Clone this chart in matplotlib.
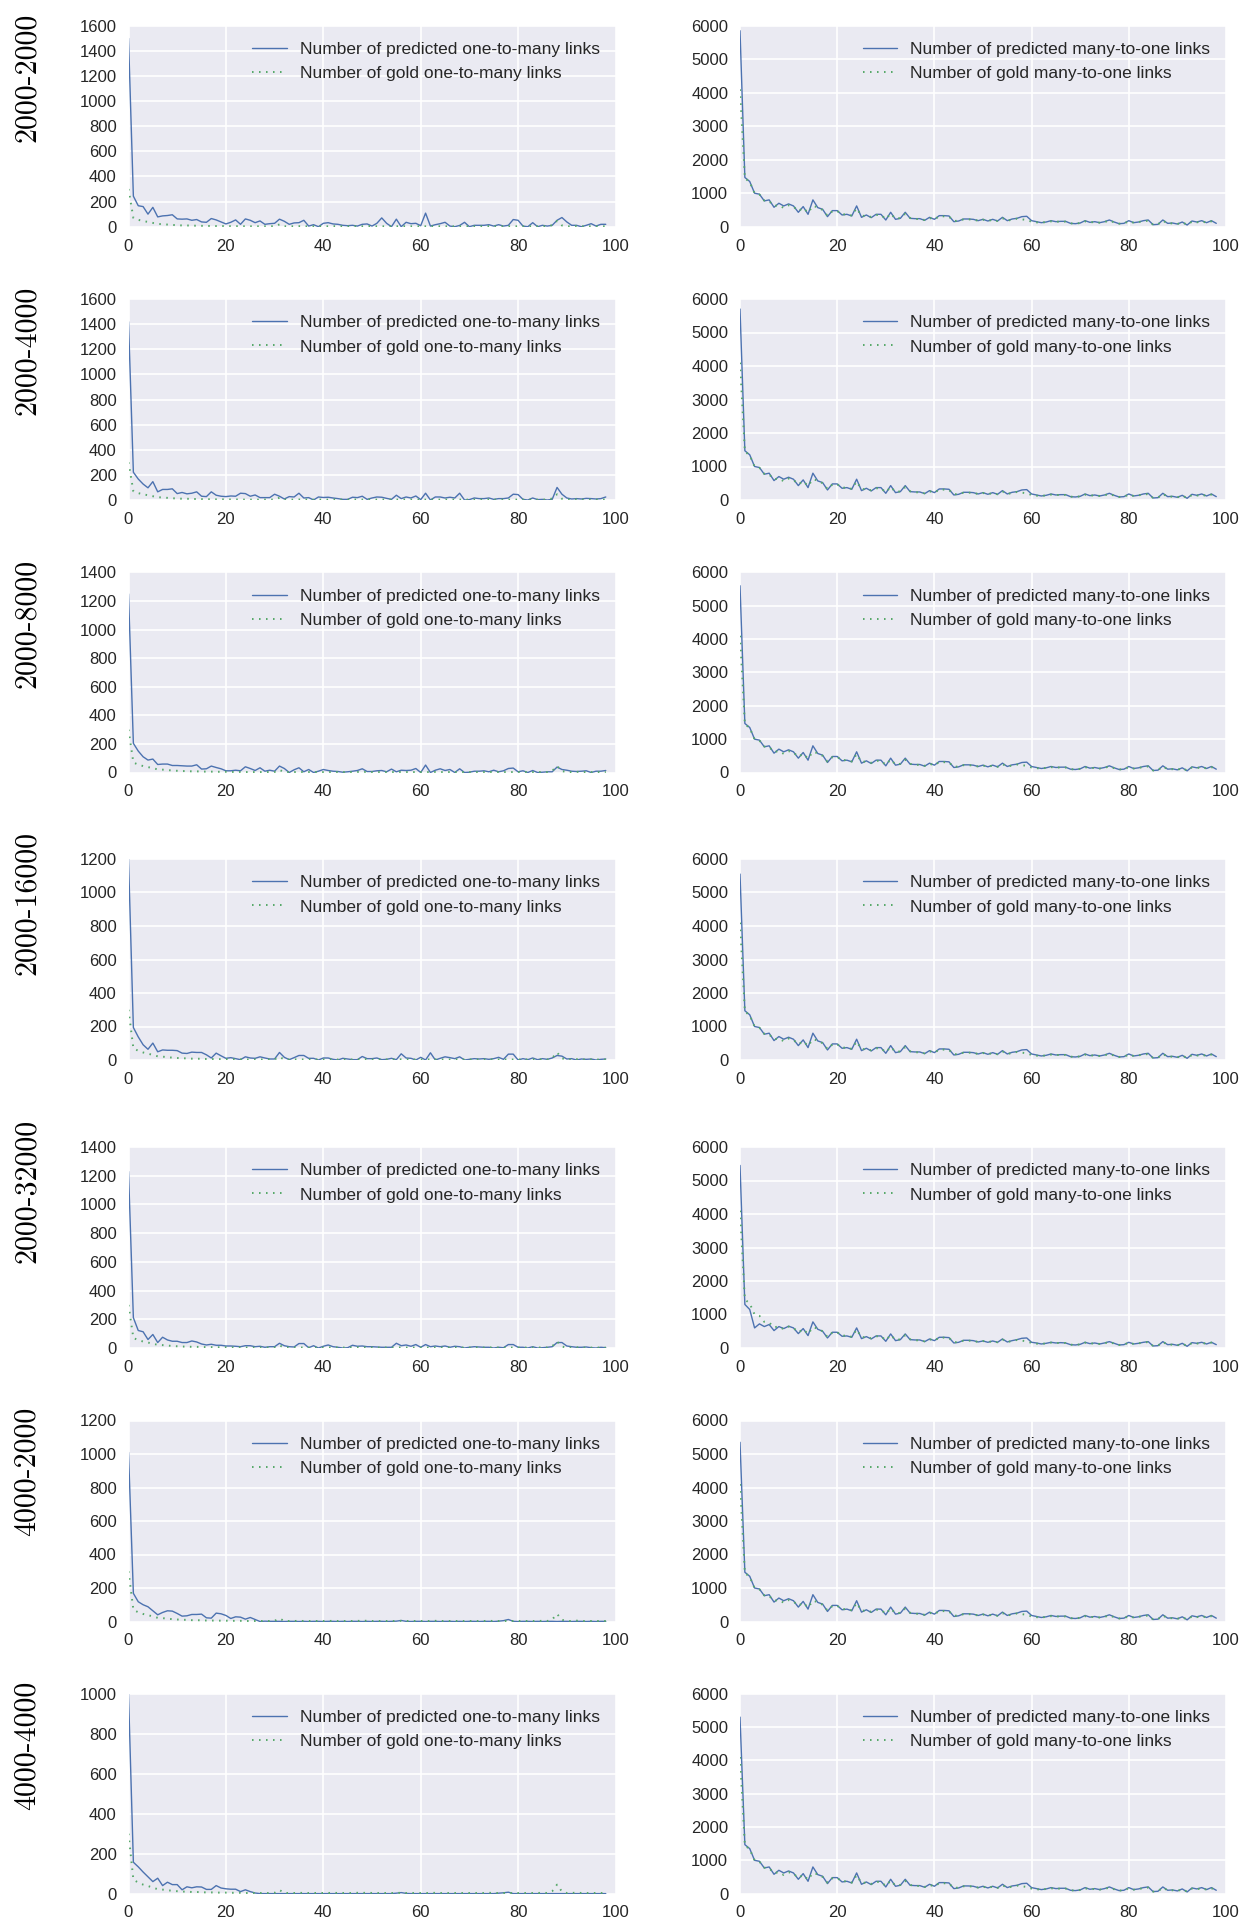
import numpy as np
import matplotlib
matplotlib.use('Agg')
import matplotlib.pyplot as plt
import seaborn as sns

# ── Data ──────────────────────────────────────────────────────────────────────
ROW_LABELS = ['2000-2000', '2000-4000', '2000-8000', '2000-16000',
              '2000-32000', '4000-2000', '4000-4000']

# predicted one-to-many links, one list per row (x = 0..98)
OTM_PRED_1 = [1500, 243, 167, 160, 100, 154, 78, 86, 89, 95,
              62, 60, 62, 51, 57, 38, 35, 65, 54, 38,
              22, 35, 54, 19, 62, 51, 32, 46, 19, 24,
              27, 60, 43, 19, 30, 32, 51, 5, 16, 0,
              27, 32, 22, 19, 11, 8, 11, 5, 19,
              22, 5, 27, 70, 27, 0, 60, 0, 35, 24,
              27, 8, 108, 5, 16, 24, 35, 5, 0, 10,
              35, 0, 11, 11, 11, 16, 5, 16, 5, 11,
              57, 51, 5, 0, 32, 0, 11, 5, 11, 51,
              73, 38, 11, 11, 0, 11, 24, 5, 19, 19]
OTM_PRED_2 = [1420, 221, 167, 127, 97, 146, 65, 84, 84, 89,
              51, 60, 49, 54, 65, 30, 27, 65, 38, 30,
              27, 32, 30, 54, 51, 30, 40, 19, 19, 19,
              46, 30, 8, 27, 24, 54, 16, 19, 0, 24,
              20, 22, 16, 11, 5, 5, 22, 19, 30,
              5, 16, 24, 22, 13, 5, 38, 11, 24, 16,
              32, 3, 54, 0, 24, 24, 16, 22, 16, 54,
              0, 3, 16, 11, 11, 16, 5, 11, 11, 16,
              46, 43, 5, 0, 16, 3, 5, 0, 5, 100,
              46, 16, 8, 11, 8, 13, 11, 8, 11, 24]
OTM_PRED_3 = [1250, 204, 150, 110, 87, 94, 56, 59, 59, 49,
              49, 47, 45, 45, 54, 24, 26, 45, 35, 26,
              12, 12, 16, 12, 40, 28, 14, 33, 9, 16,
              9, 45, 28, 0, 19, 33, 5, 21, 0, 9,
              21, 14, 9, 7, 2, 5, 9, 14, 26,
              7, 7, 12, 14, 5, 24, 5, 16, 14, 16,
              28, 0, 52, 0, 16, 26, 14, 21, 0, 26,
              0, 2, 9, 9, 12, 5, 16, 5, 12, 28,
              31, 5, 12, 0, 14, 0, 2, 5, 5, 38,
              21, 16, 9, 7, 9, 12, 0, 9, 9, 14]
OTM_PRED_4 = [1200, 194, 138, 91, 64, 101, 49, 60, 58, 58,
              56, 41, 39, 47, 45, 45, 31, 12, 41, 25,
              10, 14, 8, 2, 19, 12, 10, 19, 12, 6,
              6, 45, 16, 2, 14, 27, 27, 10, 10, 0,
              12, 12, 4, 0, 10, 6, 2, 2, 21,
              8, 8, 12, 2, 4, 10, 2, 37, 12, 10,
              0, 16, 0, 43, 0, 10, 19, 14, 8, 19,
              0, 4, 8, 6, 8, 4, 8, 16, 4, 35,
              35, 0, 8, 2, 12, 2, 8, 4, 12, 27,
              23, 6, 8, 0, 6, 4, 6, 0, 4, 6]
OTM_PRED_5 = [1230, 211, 122, 113, 59, 94, 38, 75, 56, 47,
              47, 38, 38, 49, 42, 28, 21, 26, 19, 19,
              14, 14, 12, 9, 16, 16, 9, 12, 5, 9,
              9, 33, 16, 9, 7, 31, 31, 2, 16, 0,
              12, 21, 9, 5, 0, 2, 19, 12, 14,
              9, 9, 7, 5, 5, 5, 33, 16, 21, 12,
              24, 5, 24, 9, 14, 9, 14, 5, 12, 9,
              0, 5, 9, 7, 5, 5, 0, 5, 2, 24,
              24, 5, 5, 0, 9, 0, 2, 5, 9, 38,
              38, 14, 9, 5, 5, 7, 2, 0, 5, 2]
OTM_PRED_6 = [1010, 168, 118, 100, 88, 64, 40, 54, 64, 62,
              48, 32, 34, 42, 42, 44, 22, 20, 50, 46,
              36, 18, 28, 26, 14, 24, 12, 0, 2, 1,
              1, 1, 0, 1, 1, 0, 1, 0, 1, 1,
              0, 1, 1, 0, 1, 0, 1, 1, 0,
              1, 0, 1, 1, 0, 1, 2, 6, 1, 0,
              1, 1, 0, 1, 1, 0, 1, 1, 0, 1,
              0, 1, 1, 0, 1, 1, 0, 2, 5, 12,
              1, 0, 1, 1, 0, 1, 0, 1, 1, 0,
              1, 1, 0, 1, 1, 0, 1, 0, 1, 1]
OTM_PRED_7 = [1000, 157, 134, 108, 84, 60, 77, 40, 57, 45,
              45, 19, 34, 29, 34, 33, 21, 21, 40, 28,
              24, 22, 22, 10, 19, 10, 3, 0, 0, 0,
              0, 0, 0, 0, 0, 0, 0, 0, 0, 0,
              0, 0, 0, 0, 0, 0, 0, 0, 0,
              0, 0, 0, 0, 0, 0, 2, 5, 1, 0,
              0, 0, 0, 0, 0, 0, 0, 0, 0, 0,
              0, 0, 0, 0, 0, 0, 0, 2, 4, 7,
              0, 0, 0, 0, 0, 0, 0, 0, 0, 0,
              0, 0, 0, 0, 0, 0, 0, 0, 0, 0]
OTM_PRED = [OTM_PRED_1, OTM_PRED_2, OTM_PRED_3, OTM_PRED_4,
            OTM_PRED_5, OTM_PRED_6, OTM_PRED_7]

# gold one-to-many links (same reference for every row)
OTM_GOLD = [300, 70, 55, 45, 38, 30, 22, 20, 17, 14,
            12, 10, 10, 8, 8, 7, 6, 6, 5, 5,
            5, 4, 4, 4, 3, 3, 3, 3, 3, 3,
            4, 18, 3, 3, 3, 4, 3, 3, 3, 3,
            3, 3, 4, 3, 3, 3, 3, 4, 3,
            5, 3, 3, 3, 3, 3, 3, 4, 3, 3,
            3, 3, 3, 3, 4, 3, 3, 3, 3, 3,
            3, 3, 3, 3, 3, 4, 3, 3, 3, 3,
            3, 3, 3, 3, 3, 3, 4, 3, 12, 45,
            10, 3, 3, 5, 3, 3, 3, 3, 3, 3]

# predicted many-to-one links: first value per row, shared tail (x = 1..98)
MTO_FIRST = [5850, 5700, 5600, 5550, 5450, 5350, 5300]
MTO_TAIL = [1470, 1350, 1000, 970, 770, 800, 580, 700, 620,
            680, 620, 430, 600, 370, 800, 570, 520, 300, 480,
            480, 350, 370, 320, 620, 280, 350, 270, 370, 370,
            200, 430, 220, 250, 430, 250, 240, 240, 190, 280,
            220, 330, 330, 320, 150, 170, 230, 230, 220, 180,
            220, 170, 220, 170, 280, 180, 230, 250, 300, 310,
            180, 150, 120, 140, 180, 150, 160, 160, 100, 90,
            110, 180, 130, 150, 120, 150, 200, 140, 90, 100,
            180, 120, 140, 180, 200, 60, 70, 200, 100, 110,
            80, 140, 50, 170, 140, 180, 120, 180, 100]
MTO_TAIL_ROW5 = [1300, 1150, 600, 720, 640, 700, 520, 640, 580,
                 650, 600, 430, 580, 370, 780, 560, 500, 300, 470,
                 470, 350, 360, 320, 600, 280, 340, 270, 360, 360,
                 200, 420, 220, 250, 420, 250, 240, 240, 190, 270,
                 220, 320, 320, 310, 150, 170, 230, 230, 220, 180,
                 210, 170, 210, 170, 270, 180, 220, 250, 290, 300,
                 170, 150, 120, 140, 170, 150, 160, 150, 100, 90,
                 110, 170, 130, 150, 120, 150, 190, 140, 90, 100,
                 170, 120, 140, 170, 190, 60, 70, 190, 100, 110,
                 80, 140, 50, 160, 140, 170, 120, 170, 100]

# gold many-to-one links (same reference for every row)
MTO_GOLD = [4100, 1450, 1330, 1000, 960, 780, 760, 620, 640, 560,
            640, 600, 470, 560, 420, 620, 580, 500, 330, 460,
            470, 360, 380, 330, 550, 320, 330, 290, 350, 350,
            230, 390, 240, 260, 380, 260, 230, 230, 200, 260,
            220, 310, 310, 300, 170, 180, 220, 220, 210, 180,
            210, 170, 210, 170, 250, 180, 210, 240, 220, 200,
            150, 130, 120, 140, 160, 150, 150, 150, 100, 90,
            110, 160, 130, 140, 120, 140, 180, 130, 90, 100,
            160, 120, 140, 160, 180, 60, 70, 180, 100, 100,
            80, 130, 60, 150, 130, 160, 120, 160, 100]

OTM_YMAX = [1600, 1600, 1400, 1200, 1400, 1200, 1000]
MTO_YMAX = [6000] * 7

# ── Style ─────────────────────────────────────────────────────────────────────
sns.set_style('darkgrid')
plt.rcParams['font.family'] = ['Liberation Sans', 'DejaVu Sans']
BLUE = '#4C72B0'
GREEN = '#55A868'
DARK = '#262626'
DOTS = (0, (0.8, 2.8))

W, H = 1244, 1921
fig = plt.figure(figsize=(W / 100, H / 100), dpi=100)

# axes boxes in pixels (left, right) and (top, bottom)
COLS = [(128.5, 615.5), (740, 1226)]
ROWS = [(25.7, 226.7), (299, 500), (572.4, 772.5), (859, 1060),
        (1147, 1348), (1420.5, 1621.5), (1693.8, 1893.6)]


def make_ax(col, row):
    l, r = COLS[col]
    t, b = ROWS[row]
    return fig.add_axes([l / W, 1 - b / H, (r - l) / W, (b - t) / H])


def style_ax(ax, ymax, step):
    ax.set_xlim(0, 100)
    ax.set_ylim(0, ymax)
    ax.set_xticks(range(0, 101, 20))
    ax.set_yticks(np.arange(0, ymax + 1, step))
    ax.tick_params(labelsize=12, pad=8.5, length=0, labelcolor=DARK)
    ax.grid(True, color='white', lw=1.2)
    ax.set_facecolor('#EAEAF2')
    for s in ax.spines.values():
        s.set_visible(False)


def add_legend(ax):
    ax.legend(loc='upper right', bbox_to_anchor=(1.0, 0.997),
              fontsize=12.5, frameon=False, labelcolor=DARK,
              handlelength=2.0, handletextpad=0.75, labelspacing=0.52)


for i, lab in enumerate(ROW_LABELS):
    # one-to-many
    ax = make_ax(0, i)
    pred = OTM_PRED[i]
    ax.plot(np.arange(len(pred)), pred, color=BLUE, lw=1.0,
            label='Number of predicted one-to-many links')
    ax.plot(np.arange(len(OTM_GOLD)), OTM_GOLD, color=GREEN, lw=1.4, ls=DOTS,
            label='Number of gold one-to-many links')
    style_ax(ax, OTM_YMAX[i], 200)
    add_legend(ax)

    # many-to-one
    ax = make_ax(1, i)
    tail = MTO_TAIL_ROW5 if i == 4 else MTO_TAIL
    pred = [MTO_FIRST[i]] + tail
    ax.plot(np.arange(len(pred)), pred, color=BLUE, lw=1.0,
            label='Number of predicted many-to-one links')
    ax.plot(np.arange(len(MTO_GOLD)), MTO_GOLD, color=GREEN, lw=1.4, ls=DOTS,
            label='Number of gold many-to-one links')
    style_ax(ax, MTO_YMAX[i], 1000)
    add_legend(ax)

    # row label
    t, b = ROWS[i]
    fig.text(27 / W, 1 - (t + 116) / H, lab, rotation=90,
             rotation_mode='anchor', ha='left', va='center',
             fontsize=21.5, family='cmr10', color='black')

fig.savefig('out.png', dpi=100, facecolor='white')
